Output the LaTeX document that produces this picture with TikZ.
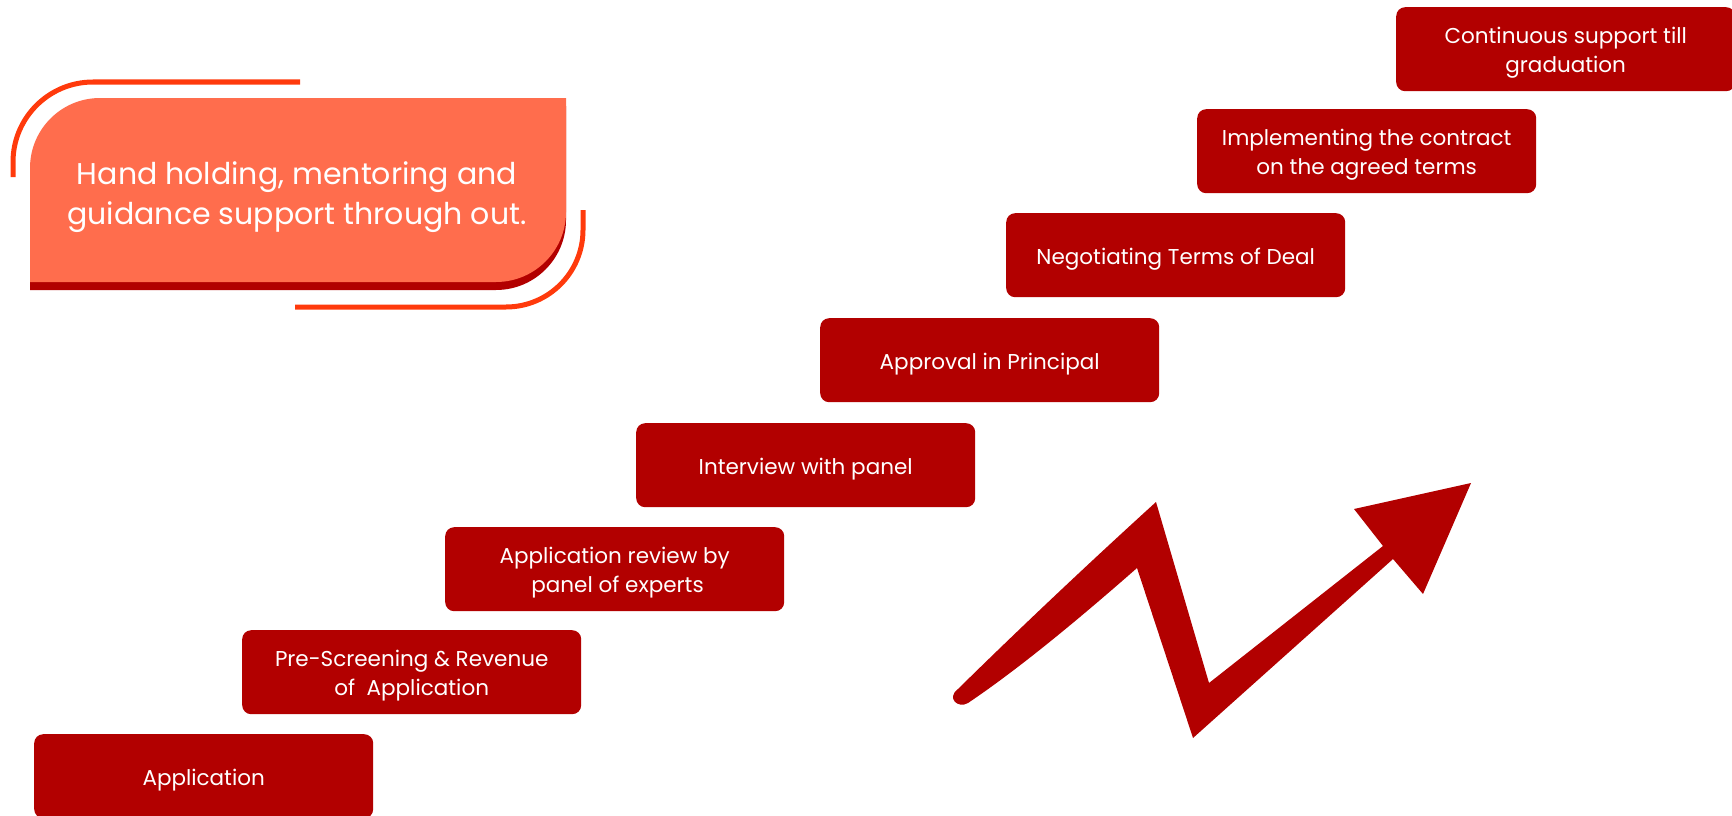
\documentclass[tikz,border=0pt]{standalone}
\usepackage{fontspec}
\setmainfont{Poppins}
\definecolor{boxred}{HTML}{B20000}
\definecolor{cardsal}{HTML}{FF6D4D}
\definecolor{linered}{HTML}{FF3A0C}
\tikzset{
  stepbox/.style={rectangle, rounded corners=9pt, minimum width=339pt,
    minimum height=84pt, text=white, align=center, anchor=north west, inner sep=0pt,
    yshift=-3.5pt, preaction={fill=boxred, transform canvas={yshift=3.5pt}},
    font=\fontsize{21.5}{29}\selectfont},
  deco/.style={draw=linered, line width=5pt}
}
\begin{document}
\begin{tikzpicture}[x=1pt,y=-1pt]
\useasboundingbox (0,0) rectangle (1732,816);
% card
\fill[boxred] (30,290) -- (30,176) arc[start angle=180,end angle=90,radius=70pt] -- (566,106) -- (566,220) arc[start angle=0,end angle=-90,radius=70pt] -- cycle;
\fill[cardsal] (30,282) -- (30,168) arc[start angle=180,end angle=90,radius=70pt] -- (566,98) -- (566,212) arc[start angle=0,end angle=-90,radius=70pt] -- cycle;
\draw[deco] (13,177) -- (13,162) arc[start angle=180,end angle=90,radius=80pt] -- (300,82);
\draw[deco] (583,210) -- (583,230) arc[start angle=0,end angle=-90,radius=77pt] -- (295,307);
\node[text=white, align=center, font=\fontsize{30}{40}\selectfont] (card) at (297,197) {Hand holding, mentoring and\\guidance support through out.};
% steps
\node[stepbox] (s1) at (34,734) {Application};
\node[stepbox] (s2) at (242,630) {Pre-Screening \& Revenue\\of~~Application};
\node[stepbox] (s3) at (445,527) {Application review by\\~panel of experts};
\node[stepbox] (s4) at (636,423) {Interview with panel};
\node[stepbox] (s5) at (820,318) {Approval in Principal};
\node[stepbox] (s6) at (1006,213) {Negotiating Terms of Deal};
\node[stepbox] (s7) at (1197,109) {Implementing the contract\\on the agreed terms};
\node[stepbox] (s8) at (1396,7) {Continuous support till\\graduation};
% zigzag arrow
\fill[boxred] (958,689) .. controls (1020,628) and (1090,562) .. (1156,502)
  -- (1209,683) -- (1383,546) -- (1354,509) -- (1471,483) -- (1423,594) -- (1393,559)
  -- (1193,738) -- (1137,568) .. controls (1080,618) and (1020,668) .. (968,703)
  .. controls (958,709) and (946,698) .. cycle;
\end{tikzpicture}
\end{document}
